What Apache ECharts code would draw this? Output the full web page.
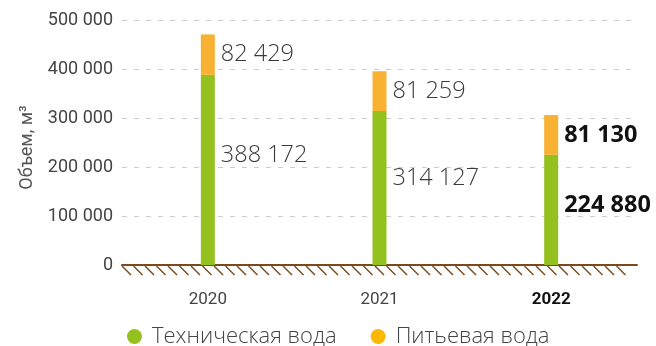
<!DOCTYPE html>
<html>
<head>
<meta charset="utf-8">
<style>
  html, body { margin: 0; padding: 0; background: #fff; }
  #chart { width: 656px; height: 346px; }
</style>
<script src="https://cdn.jsdelivr.net/npm/echarts@6/dist/echarts.min.js"></script>
</head>
<body>
<div id="chart"></div>
<script>
// Water consumption by year, m³
const years = ['2020', '2021', '2022'];
const technicalWater = [388172, 314127, 224880];
const drinkingWater = [82429, 81259, 81130];
const seriesNames = ['Техническая вода', 'Питьевая вода'];
const yTicks = [0, 100000, 200000, 300000, 400000, 500000];
const highlightYear = '2022';

// vertical nudges for the technical-water value labels
const techLabelShift = [-15, -10, -5];

const GREEN = '#95c11f';
const ORANGE = '#f8b133';
const ORANGE_KEY = '#fcb800';
const BROWN = '#7a4a1c';
const GRID = { left: 122, right: 19, top: 20, bottom: 81 };

const fmt = v => String(v).replace(/\B(?=(\d{3})+(?!\d))/g, ' ');

function labelFor(i, shift) {
  const bold = years[i] === highlightYear;
  return {
    show: true,
    position: 'right',
    distance: 6,
    offset: [0, shift],
    formatter: p => fmt(p.value),
    fontFamily: 'Open Sans',
    fontSize: 23.5,
    fontWeight: bold ? 'bold' : 300,
    color: bold ? '#111' : '#3a3a3a'
  };
}

const chart = echarts.init(document.getElementById('chart'), null, { renderer: 'canvas' });

// soil hatching under the baseline
function hatch() {
  const w = 656 - GRID.left - GRID.right;
  const y0 = 346 - GRID.bottom + 1;
  const items = [];
  for (let x = GRID.left; x <= GRID.left + w - 12; x += 11.5) {
    items.push({
      type: 'line',
      silent: true,
      shape: { x1: x, y1: y0, x2: x + 9, y2: y0 + 9 },
      style: { stroke: BROWN, lineWidth: 1.4 }
    });
  }
  return items;
}

chart.setOption({
  animation: false,
  grid: GRID,
  legend: {
    left: 122,
    top: 320,
    icon: 'circle',
    itemWidth: 15,
    itemHeight: 15,
    itemGap: 34,
    textStyle: {
      fontFamily: 'Open Sans',
      fontSize: 22,
      lineHeight: 23,
      fontWeight: 300,
      color: '#444',
      padding: [0, 0, 0, 5]
    },
    data: [
      { name: seriesNames[0], itemStyle: { color: GREEN } },
      { name: seriesNames[1], itemStyle: { color: ORANGE_KEY } }
    ]
  },
  xAxis: {
    type: 'category',
    data: years,
    axisLine: { lineStyle: { color: BROWN, width: 2 } },
    axisTick: { show: false },
    axisLabel: {
      margin: 26,
      fontFamily: 'Roboto',
      fontSize: 17,
      color: '#444',
      formatter: v => v === highlightYear ? '{b|' + v + '}' : v,
      rich: { b: { fontFamily: 'Roboto', fontSize: 17, fontWeight: 'bold', color: '#111' } }
    }
  },
  yAxis: {
    type: 'value',
    min: yTicks[0],
    max: yTicks[yTicks.length - 1],
    interval: yTicks[1] - yTicks[0],
    name: 'Объем, м³',
    nameLocation: 'middle',
    nameGap: 86,
    nameTextStyle: { fontFamily: 'Roboto', fontSize: 18, color: '#555', padding: [0, 0, 0, -10] },
    axisLine: { show: false },
    axisTick: { show: false },
    axisLabel: {
      margin: 9,
      fontFamily: 'Roboto',
      fontSize: 18,
      color: '#444',
      formatter: v => fmt(v)
    },
    splitLine: { lineStyle: { color: '#cccccc', type: [5, 7], width: 1 } }
  },
  series: [
    {
      name: seriesNames[0],
      type: 'bar',
      stack: 'water',
      barWidth: 14,
      itemStyle: { color: GREEN },
      data: technicalWater.map((v, i) => ({ value: v, label: labelFor(i, techLabelShift[i]) }))
    },
    {
      name: seriesNames[1],
      type: 'bar',
      stack: 'water',
      barWidth: 14,
      itemStyle: { color: ORANGE },
      data: drinkingWater.map((v, i) => ({ value: v, label: labelFor(i, 0) }))
    }
  ],
  graphic: hatch()
});
</script>
</body>
</html>
